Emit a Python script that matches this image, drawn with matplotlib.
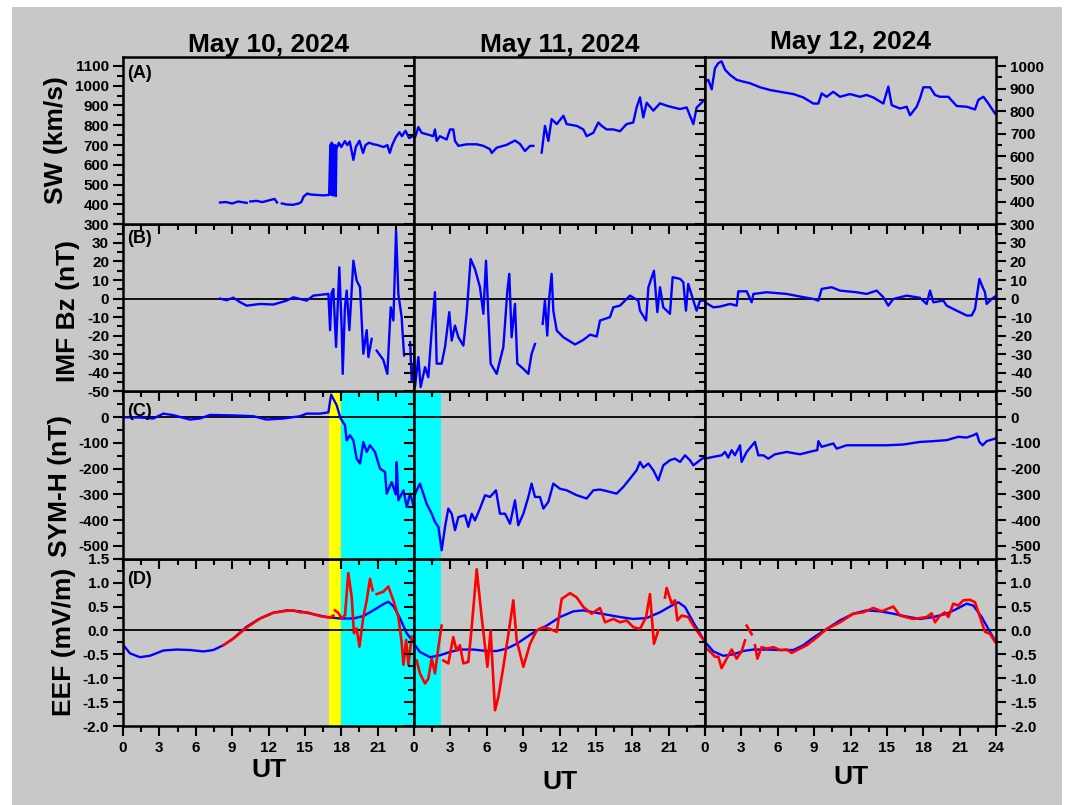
import numpy as np
import matplotlib
matplotlib.use("Agg")
import matplotlib.pyplot as plt
from matplotlib.patches import Rectangle
from matplotlib.ticker import MultipleLocator

nan = np.nan

days = ["May 10, 2024", "May 11, 2024", "May 12, 2024"]
tags = ["(A)", "(B)", "(C)", "(D)"]
ylabels = ["SW (km/s)", "IMF Bz (nT)", "SYM-H (nT)", "EEF (mV/m)"]

# solar wind speed (km/s), (UT hour, value)
sw_may10 = [(8.0, 410), (8.5, 412), (9.0, 405), (9.5, 415), (10.2, 408), (10.35, nan),
            (10.5, 415), (11.0, 418), (11.5, 412), (12.0, 420), (12.5, 428), (12.7, 410), (12.9, nan),
            (13.1, 405), (13.5, 400), (14.0, 398), (14.5, 405), (14.7, 412), (14.9, 440), (15.2, 455),
            (15.5, 450), (16.0, 448), (16.5, 446), (17.0, 448), (17.1, 700), (17.15, 450), (17.2, 712),
            (17.25, 448), (17.3, 705), (17.35, 445), (17.4, 695), (17.45, 450), (17.5, 700), (17.55, 442),
            (17.6, 680), (17.8, 712), (18.0, 690), (18.3, 720), (18.5, 700), (18.7, 718), (19.0, 625),
            (19.2, 690), (19.5, 722), (19.8, 660), (20.0, 700), (20.3, 712), (20.6, 705), (21.0, 700),
            (21.5, 690), (21.8, 700), (22.0, 660), (22.2, 700), (22.5, 740), (22.8, 765), (23.0, 745),
            (23.3, 772), (23.6, 735), (23.9, 745)]
sw_may11 = [(0.0, 745), (0.08, 738), (0.36, 791), (0.63, 762), (1.04, 755), (1.59, 745), (1.73, 779),
            (1.87, 721), (2.14, 745), (2.69, 728), (2.97, 779), (3.24, 779), (3.38, 721), (3.66, 696),
            (4.34, 704), (5.17, 704), (5.72, 696), (6.27, 679), (6.41, 660), (6.82, 687), (7.64, 701),
            (8.33, 723), (8.74, 706), (9.15, 670), (9.57, 696), (9.84, 696), (10.2, nan), (10.53, 662),
            (10.8, 797), (11.08, 721), (11.35, 831), (11.77, 806), (12.32, 848), (12.59, 806), (13.42, 797),
            (13.97, 779), (14.24, 745), (14.79, 762), (15.2, 814), (15.48, 797), (15.89, 779), (16.44, 779),
            (16.99, 770), (17.53, 806), (18.08, 814), (18.36, 890), (18.64, 941), (18.91, 840), (19.19, 914),
            (19.74, 874), (20.29, 911), (20.84, 899), (21.39, 890), (21.94, 882), (22.49, 890), (22.76, 848),
            (23.04, 806), (23.31, 890), (23.59, 906), (24.0, 931)]
sw_may12 = [(0.0, 931), (0.27, 939), (0.55, 897), (0.82, 990), (1.1, 1013), (1.37, 1021), (1.65, 984),
            (2.06, 961), (2.61, 939), (3.16, 931), (3.71, 924), (4.54, 906), (5.36, 894), (6.19, 886),
            (7.29, 876), (8.11, 861), (8.94, 834), (9.35, 834), (9.62, 879), (10.03, 864), (10.58, 886),
            (11.13, 864), (11.96, 876), (12.78, 864), (13.33, 872), (13.88, 861), (14.71, 834), (15.12, 909),
            (15.4, 827), (16.08, 812), (16.63, 820), (16.91, 782), (17.46, 820), (17.73, 857), (18.01, 906),
            (18.56, 906), (18.97, 872), (19.38, 864), (20.07, 864), (20.76, 823), (21.58, 820), (22.27, 808),
            (22.54, 850), (22.96, 864), (23.37, 834), (23.92, 790)]

# IMF Bz (nT)
bz_may10 = [(8.0, 0), (8.55, -0.9), (9.1, 0.5), (9.65, -1.9), (10.2, -3.8), (11.3, -2.9), (12.4, -3.2),
            (13.5, -1.1), (14.05, 0.7), (15.15, -1.1), (15.7, 1.6), (16.94, 2.5), (17.08, -17), (17.2, 3),
            (17.35, 5.2), (17.57, -26), (17.84, 16.8), (18.04, -17), (18.12, -40.5), (18.3, -5), (18.45, 4.3),
            (18.67, -17), (19.0, 20.4), (19.27, 9.7), (19.55, 6.1), (19.82, -29.7), (20.1, -17), (20.24, -31.5),
            (20.51, -21.7), (20.65, nan), (20.92, -28), (21.47, -33), (21.8, -40.5), (22.08, -4.7),
            (22.3, -11.8), (22.52, 36.6), (22.71, 2.5), (22.98, -10), (23.18, -30.6), (23.4, nan),
            (23.68, -23.5), (23.81, -44), (24.0, -35)]
bz_may11 = [(0.0, -30), (0.08, -47.6), (0.36, -31.5), (0.55, -47.6), (0.91, -36.9), (1.18, -42.3),
            (1.46, -17), (1.73, 3.4), (1.87, -35), (2.28, -35), (2.56, -26), (2.91, -7.3), (3.11, -22.6),
            (3.38, -14.5), (3.66, -20.8), (4.07, -25.3), (4.34, -8.2), (4.67, 21.3), (5.03, 15.9), (5.44, 6.1),
            (5.72, -8.2), (5.94, 20.4), (6.13, -8.2), (6.32, -35), (6.82, -40.5), (7.37, -26), (7.70, 4.3),
            (7.86, 13.3), (8.05, -20.8), (8.33, -2.9), (8.52, -35), (9.02, -37.8), (9.43, -40.5), (9.70, -29.7),
            (9.98, -24.4), (10.3, nan), (10.61, -13.6), (10.80, -1.1), (10.99, -19.9), (11.16, 0.7),
            (11.35, 13.3), (11.49, -6.5), (11.77, -17.2), (12.32, -20.8), (13.28, -24.7), (13.97, -22.2),
            (14.52, -19.4), (15.07, -20.4), (15.34, -11.8), (16.16, -10), (16.44, -4.7), (16.99, -3.8),
            (17.81, 1.6), (18.50, -1.1), (18.64, -6.5), (19.14, -11.8), (19.33, 6.1), (19.79, 15),
            (20.07, -7.3), (20.29, 6.1), (20.56, -4.7), (21.11, -8.2), (21.33, 11.5), (21.94, 10.6),
            (22.21, 8.8), (22.43, -6.5), (22.62, 7.9), (23.04, -1.1), (23.31, -6.5), (23.59, -1.1), (24.0, -1.1)]
bz_may12 = [(0.0, -2), (0.69, -4.7), (1.24, -4.3), (2.06, -2.9), (2.61, -3.8), (2.75, 3.9), (3.44, 3.9),
            (3.85, -2), (3.99, 2.5), (5.09, 3.4), (6.74, 2.5), (7.84, 1.1), (8.94, -0.2), (9.35, -1.1),
            (9.62, 5.2), (10.45, 6.1), (11.13, 4.3), (12.51, 3.4), (13.33, 2.5), (14.16, 4.3), (14.71, 0.7),
            (15.12, -3.8), (15.53, -0.2), (16.63, 1.6), (17.73, 0.4), (18.28, -2.9), (18.56, 4.3),
            (18.83, -2), (19.66, -1.1), (19.93, -3.8), (20.48, -5.6), (21.58, -9.1), (21.99, -9.1),
            (22.27, -5.6), (22.63, 10.6), (22.90, 6.1), (23.09, 3.4), (23.23, -2.9), (23.64, -0.2), (23.92, 1.1)]

# SYM-H (nT)
symh_may10 = [(0.03, 0), (1.4, -1), (2.5, -5), (3.33, 14), (4.15, 8), (5.52, -9), (6.35, -5), (7.17, 9),
              (9.1, 7), (10.75, 4), (11.85, -9), (13.22, -5), (14.6, 4), (15.15, 14), (16.25, 14),
              (16.94, 19), (17.16, 88), (17.62, 47), (17.95, -5), (18.31, -31), (18.45, -90), (18.72, -70),
              (19.0, -90), (19.27, -161), (19.55, -180), (19.82, -96), (20.1, -135), (20.37, -109),
              (20.78, -135), (21.2, -200), (21.61, -213), (21.75, -297), (22.16, -252), (22.5, -300),
              (22.57, -174), (22.71, -323), (23.13, -284), (23.4, -349), (23.68, -297), (23.95, -342)]
symh_may11 = [(0.0, -310), (0.22, -284), (0.49, -258), (0.77, -297), (1.04, -336), (1.46, -375),
              (1.73, -407), (2.01, -426), (2.28, -517), (2.56, -426), (2.83, -355), (3.11, -375),
              (3.38, -439), (3.66, -388), (4.21, -381), (4.48, -426), (4.76, -375), (5.03, -401),
              (5.44, -355), (5.86, -303), (6.27, -310), (6.76, -284), (7.09, -375), (7.51, -375),
              (7.92, -414), (8.33, -323), (8.6, -420), (9.02, -375), (9.43, -310), (9.70, -258),
              (9.98, -310), (10.39, -310), (10.67, -355), (11.08, -329), (11.49, -258), (12.04, -278),
              (12.59, -284), (13.42, -303), (14.24, -316), (14.79, -284), (15.34, -281), (15.89, -287),
              (16.71, -297), (17.26, -271), (17.81, -239), (18.36, -206), (18.64, -174), (18.91, -196),
              (19.33, -180), (19.74, -206), (20.15, -245), (20.56, -187), (21.11, -167), (21.53, -161),
              (21.94, -174), (22.35, -148), (22.76, -167), (23.04, -187), (23.59, -167), (24.0, -154)]
symh_may12 = [(0.0, -161), (0.69, -154), (1.37, -148), (1.65, -135), (1.92, -157), (2.2, -128),
              (2.47, -148), (2.89, -109), (3.02, -174), (3.44, -135), (4.12, -96), (4.4, -148),
              (4.81, -148), (5.22, -161), (5.77, -144), (6.74, -135), (7.84, -144), (8.94, -131),
              (9.26, -128), (9.35, -93), (9.62, -115), (10.58, -102), (10.86, -122), (11.68, -109),
              (13.33, -109), (14.98, -109), (16.36, -106), (17.73, -96), (18.83, -93), (19.93, -89),
              (20.89, -76), (21.58, -79), (22.13, -70), (22.41, -63), (22.63, -96), (22.9, -109),
              (23.23, -93), (23.92, -83)]

# EEF (mV/m): quiet-time reference (blue) and observed (red)
eef_quiet_may10 = [(0.03, -0.31), (0.58, -0.48), (1.40, -0.56), (2.23, -0.53), (3.33, -0.42), (4.43, -0.40),
                   (5.53, -0.41), (6.63, -0.44), (7.45, -0.41), (8.27, -0.31), (9.10, -0.17), (10.2, 0.08),
                   (11.3, 0.25), (12.4, 0.37), (13.5, 0.42), (14.6, 0.40), (15.7, 0.34), (16.8, 0.28),
                   (17.9, 0.25), (19.0, 0.25), (19.82, 0.30), (20.65, 0.42), (21.47, 0.55), (21.88, 0.60),
                   (22.3, 0.51), (22.85, 0.25), (23.4, -0.06), (23.95, -0.24)]
eef_obs_may10 = [(8.27, -0.31), (9.10, -0.17), (10.2, 0.06), (11.3, 0.25), (12.4, 0.37), (13.5, 0.41),
                 (14.05, 0.42), (14.6, 0.38), (15.15, 0.38), (16.25, 0.30), (17.07, 0.27), (17.35, 0.31),
                 (17.42, nan), (17.48, 0.42), (17.76, 0.37), (18.03, 0.25), (18.31, 0.32), (18.58, 1.20),
                 (18.86, 0.70), (19.05, -0.06), (19.27, 0.04), (19.5, -0.34), (19.82, 0.28), (20.1, 0.63),
                 (20.37, 1.08), (20.59, 0.84), (20.75, nan), (20.92, 0.76), (21.47, 0.81), (21.88, 0.92),
                 (22.3, 0.63), (22.71, 0.28), (22.99, -0.27), (23.13, -0.72), (23.35, -0.2), (23.54, -0.72),
                 (23.81, -0.13)]
eef_quiet_may11 = [(0.0, -0.28), (0.49, -0.45), (1.32, -0.56), (2.14, -0.52), (2.97, -0.45), (3.79, -0.40),
                   (4.89, -0.40), (5.99, -0.43), (6.82, -0.43), (7.64, -0.38), (8.47, -0.28), (9.29, -0.14),
                   (10.12, 0.0), (10.94, 0.10), (12.04, 0.28), (13.15, 0.40), (13.97, 0.42), (14.79, 0.38),
                   (15.89, 0.33), (16.99, 0.28), (18.08, 0.24), (19.19, 0.26), (20.29, 0.38), (21.11, 0.50),
                   (21.80, 0.59), (22.35, 0.49), (23.04, 0.17), (23.59, -0.07), (24.0, -0.24)]
eef_obs_may11 = [(0.22, -0.63), (0.49, -0.90), (0.91, -1.11), (1.18, -1.01), (1.46, -0.59), (1.73, -0.90),
                 (2.01, -0.35), (2.28, 0.10), (2.35, nan), (2.42, -0.63), (2.83, -0.69), (3.24, -0.14),
                 (3.51, -0.42), (3.79, -0.31), (4.07, -0.69), (4.48, -0.66), (4.76, 0.07), (5.17, 1.28),
                 (5.58, 0.28), (6.05, -0.76), (6.32, 0.0), (6.68, -1.67), (6.96, -1.39), (7.37, -0.76),
                 (7.79, -0.07), (8.19, 0.63), (8.47, -0.21), (9.02, -0.76), (9.57, -0.28), (10.12, 0.0),
                 (10.67, 0.07), (11.22, 0.03), (11.77, -0.03), (12.18, 0.66), (12.87, 0.78), (13.42, 0.69),
                 (13.97, 0.49), (14.65, 0.35), (15.34, 0.47), (15.76, 0.17), (16.44, 0.24), (16.99, 0.17),
                 (17.53, 0.21), (18.08, 0.07), (18.64, 0.03), (19.14, 0.28), (19.46, 0.76), (19.79, -0.28),
                 (20.15, 0.0), (20.4, nan), (20.70, 0.69), (20.84, 0.89), (21.25, 0.56), (21.53, 0.63),
                 (21.72, 0.21), (22.08, 0.31), (22.62, 0.28), (23.04, 0.10), (23.59, -0.10), (24.0, -0.24)]
eef_quiet_may12 = [(0.0, -0.24), (0.69, -0.44), (1.51, -0.53), (2.34, -0.50), (3.16, -0.43), (3.99, -0.40),
                   (5.09, -0.40), (6.19, -0.41), (7.29, -0.41), (8.11, -0.31), (8.94, -0.15), (10.03, 0.03),
                   (11.13, 0.21), (12.23, 0.35), (13.33, 0.42), (14.43, 0.40), (15.53, 0.35), (16.63, 0.29),
                   (17.73, 0.24), (18.83, 0.28), (19.93, 0.35), (20.76, 0.45), (21.58, 0.56), (22.13, 0.52),
                   (22.82, 0.28), (23.5, -0.03), (23.92, -0.21)]
eef_obs_may12 = [(0.0, -0.35), (0.41, -0.44), (0.82, -0.55), (1.1, -0.55), (1.37, -0.79), (1.79, -0.59),
                 (2.2, -0.40), (2.61, -0.59), (3.02, -0.44), (3.3, -0.21), (3.37, nan), (3.44, 0.10),
                 (3.85, -0.08), (3.95, nan), (4.12, -0.31), (4.32, -0.59), (4.67, -0.35), (5.09, -0.38),
                 (5.64, -0.35), (6.19, -0.41), (6.74, -0.40), (7.15, -0.47), (7.84, -0.38), (8.39, -0.31),
                 (9.21, -0.15), (10.03, 0.03), (11.13, 0.17), (12.23, 0.35), (13.06, 0.38), (13.88, 0.47),
                 (14.57, 0.40), (15.53, 0.50), (16.08, 0.31), (17.18, 0.24), (18.28, 0.28), (18.69, 0.36),
                 (18.97, 0.17), (19.38, 0.31), (19.79, 0.38), (20.07, 0.28), (20.48, 0.56), (20.89, 0.52),
                 (21.3, 0.63), (21.86, 0.64), (22.27, 0.59), (22.68, 0.28), (23.09, -0.03), (23.5, -0.07),
                 (23.92, -0.24)]

# shaded intervals: (day index, start hour, end hour)
ssc_spans = [(0, 17.0, 18.0)]
main_phase_spans = [(0, 18.0, 24.0), (1, 0.0, 2.25)]

panels = [
    [[(sw_may10, "blue")], [(sw_may11, "blue")], [(sw_may12, "blue")]],
    [[(bz_may10, "blue")], [(bz_may11, "blue")], [(bz_may12, "blue")]],
    [[(symh_may10, "blue")], [(symh_may11, "blue")], [(symh_may12, "blue")]],
    [[(eef_quiet_may10, "blue"), (eef_obs_may10, "red")],
     [(eef_quiet_may11, "blue"), (eef_obs_may11, "red")],
     [(eef_quiet_may12, "blue"), (eef_obs_may12, "red")]],
]

plt.rcParams["font.family"] = ["Liberation Sans", "DejaVu Sans"]
plt.rcParams["font.weight"] = "bold"

grey = "#c8c8c8"
W, H = 1069, 805

fig = plt.figure(figsize=(W / 100, H / 100), dpi=100)
fig.add_artist(Rectangle((12 / W, 0), 1050 / W, 798 / H, transform=fig.transFigure,
                         facecolor=grey, edgecolor="none", zorder=-10))
gs = fig.add_gridspec(4, 3, left=123 / W, right=996 / W, top=1 - 57 / H, bottom=1 - 726 / H,
                      hspace=0, wspace=0)

ylims = [(300, 1145), (-50, 40), (-550, 100), (-2.0, 1.5)]
majors = [100, 10, 100, 0.5]
minors = [50, 5, 50, 0.25]
tag_off = [8, 6, 11, 12]
label_y = [0.503, 0.479, 0.437, 0.5]
title_pad = [3.6, 3.6, 5.8]
ut_pad = [2, 10.5, 7]


def fmt(r, v):
    if r == 3:
        return "%.1f" % v
    return "%d" % round(v)


for r in range(4):
    for c in range(3):
        ax = fig.add_subplot(gs[r, c])
        # upper/right panels on top so their outward ticks show over neighbours
        ax.set_zorder((3 - r) * 3 + c)
        ax.set_facecolor(grey)

        lo, hi = ylims[r]
        if r == 0 and c == 2:
            hi = 1040
        ax.set_xlim(0, 24)
        ax.set_ylim(lo, hi)

        if r >= 2:
            for d, a, b in ssc_spans:
                if d == c:
                    ax.axvspan(a, b, color="#ffff00", lw=0, zorder=0.5)
            for d, a, b in main_phase_spans:
                if d == c:
                    ax.axvspan(a, b, color="#00ffff", lw=0, zorder=0.5)
        if r >= 1:
            ax.axhline(0, color="black", lw=1.3, zorder=1.5)

        for pairs, col in panels[r][c]:
            arr = np.array(pairs, dtype=float)
            ax.plot(arr[:, 0], arr[:, 1], color=col, lw=1.7 if col == "blue" else 1.9, zorder=2)

        # x ticks
        ax.set_xticks(range(0, 25, 3))
        ax.xaxis.set_minor_locator(MultipleLocator(1.5))
        xl = [str(h) for h in range(0, 25, 3)]
        if c < 2:
            xl[-1] = ""
        ax.set_xticklabels(xl)
        ax.tick_params(axis="x", which="both", direction="out", bottom=True, top=False,
                       labelbottom=(r == 3), labelsize=11, pad=4)

        # y ticks
        step = majors[r]
        top_major = np.floor(hi / step + 1e-9) * step
        yt = np.arange(np.ceil(lo / step - 1e-9) * step, top_major + step / 2, step)
        yl = [fmt(r, v) for v in yt]
        if r in (1, 2):
            yl[-1] = ""
        ax.set_yticks(yt)
        ax.set_yticklabels(yl)
        ax.yaxis.set_minor_locator(MultipleLocator(minors[r]))
        ax.tick_params(axis="y", which="both", direction="out", left=True, right=(c == 2),
                       labelleft=(c == 0), labelright=(c == 2), labelsize=11, pad=3)

        ax.tick_params(which="major", length=7, width=1.5)
        ax.tick_params(which="minor", length=4, width=1.5)
        for s in ax.spines.values():
            s.set_linewidth(1.8)

        if r == 0:
            ax.set_title(days[c], fontsize=19, fontweight="bold", pad=title_pad[c])
        if c == 0:
            ax.text(4 / 291, 1 - tag_off[r] / 167, tags[r], transform=ax.transAxes,
                    ha="left", va="top", fontsize=13, fontweight="bold")
            ax.set_ylabel(ylabels[r], fontsize=19, fontweight="bold", labelpad=5)
            ax.yaxis.label.set_y(label_y[r])
        if r == 3:
            ax.set_xlabel("UT", fontsize=19, fontweight="bold", labelpad=ut_pad[c])

fig.savefig("out.png", dpi=100, facecolor="white")
